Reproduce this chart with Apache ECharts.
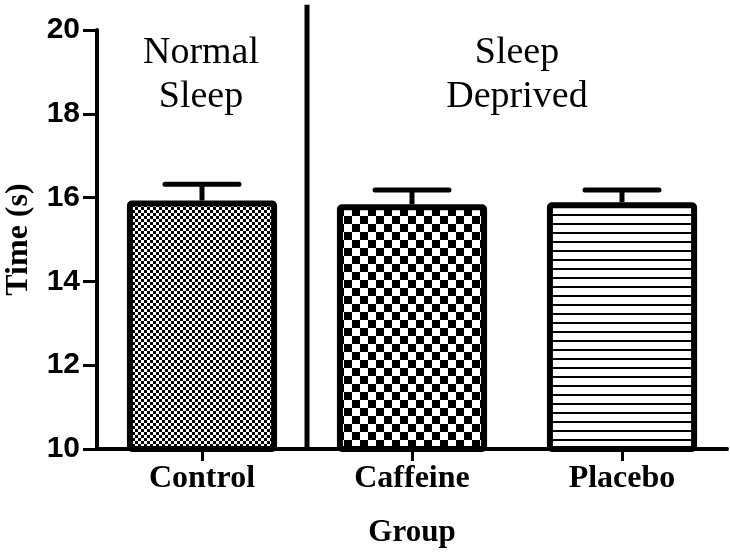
<!DOCTYPE html>
<html>
<head>
<meta charset="utf-8">
<script src="https://cdn.jsdelivr.net/npm/echarts@6/dist/echarts.min.js"></script>
<style>html,body{margin:0;padding:0;background:#fff}#c{width:730px;height:553px}</style>
</head>
<body>
<div id="c"></div>
<script>
var categories = ['Control', 'Caffeine', 'Placebo'];
var means = [15.93, 15.84, 15.89];
var errorTops = [16.32, 16.18, 16.18];
var yTicks = {min: 10, max: 20, interval: 2};
var groupLabels = ['Normal\nSleep', 'Sleep\nDeprived'];
var dividerPos = [[1, 10], [1, 20.6]];

function makePattern(kind) {
  var c = document.createElement('canvas');
  var ctx;
  if (kind === 'fine') {
    c.width = 6; c.height = 6; ctx = c.getContext('2d');
    ctx.fillStyle = '#fff'; ctx.fillRect(0,0,6,6);
    ctx.fillStyle = '#000'; ctx.fillRect(0,0,3,3); ctx.fillRect(3,3,3,3);
  } else if (kind === 'coarse') {
    c.width = 16; c.height = 16; ctx = c.getContext('2d');
    ctx.fillStyle = '#fff'; ctx.fillRect(0,0,16,16);
    ctx.fillStyle = '#000'; ctx.fillRect(0,0,8,8); ctx.fillRect(8,8,8,8);
  } else {
    c.width = 4; c.height = 9; ctx = c.getContext('2d');
    ctx.fillStyle = '#fff'; ctx.fillRect(0,0,4,9);
    ctx.fillStyle = '#000'; ctx.fillRect(0,7,4,2);
  }
  return {image: c, repeat: 'repeat'};
}
var patterns = [makePattern('fine'), makePattern('coarse'), makePattern('lines')];

var chart = echarts.init(document.getElementById('c'), null, {renderer: 'canvas'});
var serif = '"Liberation Serif", "Times New Roman", serif';
var sans = '"Liberation Sans", Arial, sans-serif';

var option = {
  animation: false,
  backgroundColor: '#fff',
  grid: {left: 97, right: 3, top: 30, bottom: 104, containLabel: false, outerBoundsMode: 'none'},
  xAxis: [{
    type: 'category',
    data: categories,
    axisLine: {lineStyle: {color: '#000', width: 4}},
    axisTick: {show: true, alignWithLabel: true, length: 12, lineStyle: {color: '#000', width: 3}},
    axisLabel: {color: '#000', fontFamily: serif, fontWeight: 'bold', fontSize: 32, margin: 14},
    name: 'Group',
    nameLocation: 'middle',
    nameGap: 68,
    nameTextStyle: {color: '#000', fontFamily: serif, fontWeight: 'bold', fontSize: 31}
  }, {
    type: 'value', min: 0, max: 3, show: false
  }],
  yAxis: {
    type: 'value',
    min: yTicks.min, max: yTicks.max, interval: yTicks.interval,
    splitLine: {show: false},
    axisLine: {show: true, lineStyle: {color: '#000', width: 4}},
    axisTick: {show: true, length: 14, lineStyle: {color: '#000', width: 3}},
    axisLabel: {color: '#000', fontFamily: sans, fontWeight: 'bold', fontSize: 30, margin: 17},
    name: 'Time (s)',
    nameLocation: 'middle',
    nameRotate: 90,
    nameGap: 62,
    nameTextStyle: {color: '#000', fontFamily: serif, fontWeight: 'bold', fontSize: 32}
  },
  graphic: [
    {type: 'text', x: 201, y: 31, style: {text: groupLabels[0], textAlign: 'center', textVerticalAlign: 'top', font: '38px ' + serif, lineHeight: 44, fill: '#000'}},
    {type: 'text', x: 517, y: 31, style: {text: groupLabels[1], textAlign: 'center', textVerticalAlign: 'top', font: '38px ' + serif, lineHeight: 44, fill: '#000'}}
  ],
  series: [{
    type: 'bar',
    data: means.map(function (v, i) {
      return {value: v, itemStyle: {color: patterns[i]}};
    }),
    barWidth: '71.5%',
    itemStyle: {borderColor: '#000', borderWidth: 6, borderRadius: 2},
    z: 2
  }, {
    type: 'custom',
    data: means.map(function (v, i) { return [i, v, errorTops[i]]; }),
    z: 3,
    renderItem: function (params, api) {
      var base = api.coord([api.value(0), api.value(1)]);
      var top = api.coord([api.value(0), api.value(2)]);
      var hw = 37;
      return {
        type: 'group',
        children: [
          {type: 'line', shape: {x1: base[0], y1: base[1], x2: top[0], y2: top[1]}, style: {stroke: '#000', lineWidth: 5}},
          {type: 'line', shape: {x1: top[0] - hw, y1: top[1], x2: top[0] + hw, y2: top[1]}, style: {stroke: '#000', lineWidth: 5, lineCap: 'round'}}
        ]
      };
    }
  }, {
    type: 'line',
    xAxisIndex: 1,
    data: dividerPos,
    symbol: 'none',
    clip: false,
    lineStyle: {color: '#000', width: 5},
    z: 4
  }]
};
chart.setOption(option);
</script>
</body>
</html>
